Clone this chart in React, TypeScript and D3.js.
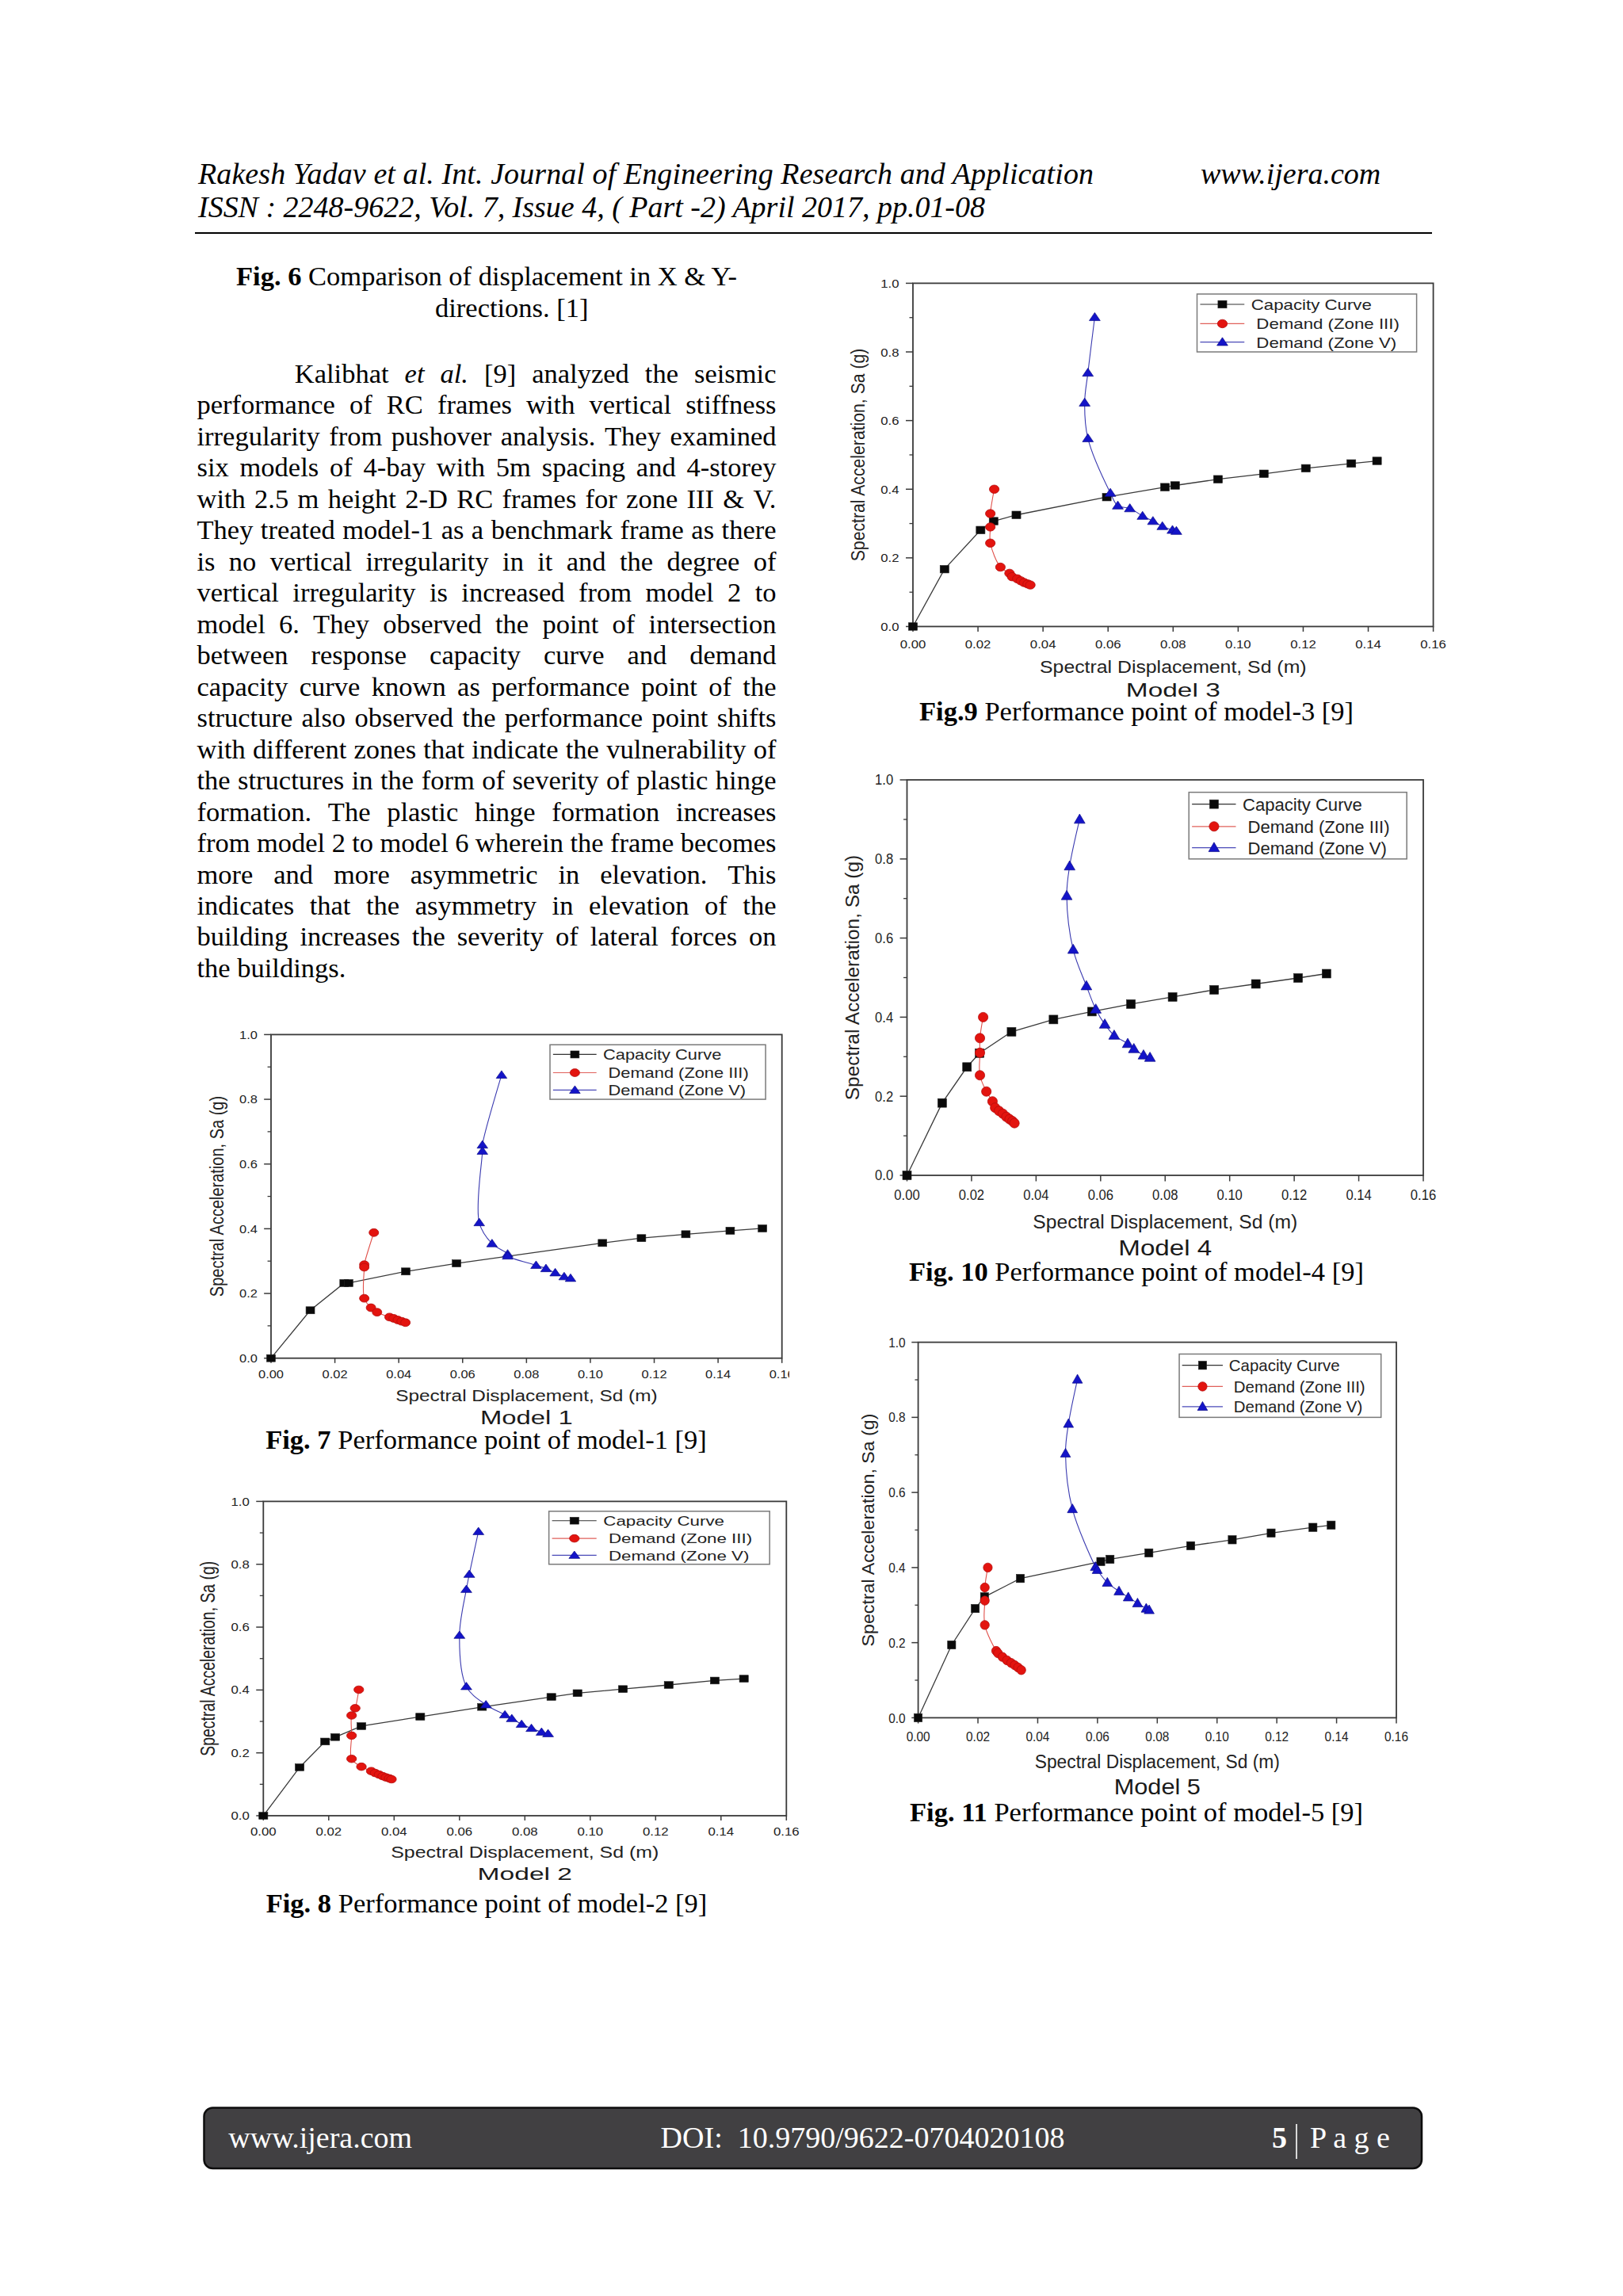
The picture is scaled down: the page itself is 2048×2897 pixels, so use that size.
import React, { useMemo } from 'react';
import * as d3 from 'd3';

type Pt = [number, number];

// ---------- DATA ----------
const xTickValues = [0, 0.02, 0.04, 0.06, 0.08, 0.1, 0.12, 0.14, 0.16];
const yTickValues = [0, 0.2, 0.4, 0.6, 0.8, 1.0];
const yMinorValues = [0.1, 0.3, 0.5, 0.7, 0.9];
const legendLabels = ['Capacity Curve', 'Demand (Zone III)', 'Demand (Zone V)'];

// Model 1
const m1Capacity: Pt[] = [[0, 0], [0.0123, 0.148], [0.0229, 0.232], [0.0243, 0.232], [0.0422, 0.268], [0.0581, 0.293], [0.1038, 0.356], [0.116, 0.371], [0.1299, 0.383], [0.1438, 0.394], [0.1539, 0.401]];
const m1Zone3: Pt[] = [[0.0322, 0.388], [0.0292, 0.289], [0.0292, 0.281], [0.0292, 0.185], [0.0313, 0.156], [0.0332, 0.142], [0.0371, 0.127], [0.0384, 0.123], [0.0397, 0.118], [0.0409, 0.114], [0.0421, 0.11]];
const m1Zone5: Pt[] = [[0.0722, 0.875], [0.0662, 0.659], [0.0662, 0.64], [0.0652, 0.419], [0.0692, 0.354], [0.0741, 0.322], [0.0741, 0.316], [0.083, 0.287], [0.0861, 0.277], [0.089, 0.264], [0.0918, 0.252], [0.0938, 0.247]];

// Model 2
const m2Capacity: Pt[] = [[0, 0], [0.0111, 0.154], [0.0189, 0.236], [0.022, 0.25], [0.03, 0.285], [0.048, 0.315], [0.0669, 0.346], [0.0881, 0.378], [0.0961, 0.39], [0.11, 0.403], [0.124, 0.416], [0.1381, 0.43], [0.147, 0.436]];
const m2Zone3: Pt[] = [[0.0292, 0.401], [0.0281, 0.342], [0.027, 0.319], [0.027, 0.255], [0.027, 0.181], [0.03, 0.156], [0.033, 0.142], [0.0342, 0.136], [0.0354, 0.131], [0.0365, 0.126], [0.0375, 0.122], [0.0385, 0.119], [0.0392, 0.116]];
const m2Zone5: Pt[] = [[0.0658, 0.904], [0.063, 0.768], [0.0621, 0.72], [0.06, 0.574], [0.0621, 0.411], [0.0681, 0.353], [0.0739, 0.321], [0.076, 0.309], [0.079, 0.291], [0.082, 0.278], [0.0851, 0.266], [0.0871, 0.261]];

// Model 3
const m3Capacity: Pt[] = [[0, 0], [0.0097, 0.167], [0.0208, 0.281], [0.0248, 0.307], [0.0318, 0.325], [0.0596, 0.377], [0.0775, 0.406], [0.0806, 0.411], [0.0938, 0.429], [0.1079, 0.445], [0.1208, 0.461], [0.1348, 0.475], [0.1427, 0.4825]];
const m3Zone3: Pt[] = [[0.025, 0.4], [0.0238, 0.329], [0.0238, 0.29], [0.0238, 0.243], [0.0269, 0.173], [0.0297, 0.155], [0.0305, 0.145], [0.0321, 0.139], [0.0332, 0.133], [0.0342, 0.128], [0.0353, 0.124], [0.0361, 0.121]];
const m3Zone5: Pt[] = [[0.0559, 0.901], [0.0538, 0.739], [0.0528, 0.652], [0.0538, 0.548], [0.0607, 0.389], [0.063, 0.352], [0.0667, 0.344], [0.0706, 0.322], [0.0738, 0.307], [0.0767, 0.292], [0.0798, 0.281], [0.081, 0.278]];

// Model 4
const m4Capacity: Pt[] = [[0, 0], [0.0109, 0.183], [0.0186, 0.274], [0.0225, 0.309], [0.0324, 0.363], [0.0454, 0.394], [0.0573, 0.414], [0.0694, 0.433], [0.0823, 0.451], [0.0952, 0.469], [0.1081, 0.484], [0.1212, 0.499], [0.13, 0.51]];
const m4Zone3: Pt[] = [[0.0236, 0.4], [0.0226, 0.347], [0.0226, 0.31], [0.0226, 0.253], [0.0246, 0.212], [0.0265, 0.187], [0.0273, 0.171], [0.0285, 0.163], [0.0297, 0.156], [0.0308, 0.148], [0.0318, 0.142], [0.0327, 0.137], [0.0333, 0.132]];
const m4Zone5: Pt[] = [[0.0535, 0.9], [0.0504, 0.782], [0.0495, 0.707], [0.0515, 0.571], [0.0556, 0.479], [0.0585, 0.42], [0.0613, 0.382], [0.0642, 0.354], [0.0684, 0.333], [0.0703, 0.32], [0.0733, 0.304], [0.0753, 0.298]];

// Model 5
const m5Capacity: Pt[] = [[0, 0], [0.0112, 0.194], [0.0191, 0.291], [0.0222, 0.322], [0.0342, 0.371], [0.0611, 0.416], [0.0642, 0.422], [0.0772, 0.439], [0.0912, 0.458], [0.1051, 0.474], [0.1181, 0.492], [0.1321, 0.507], [0.1382, 0.513]];
const m5Zone3: Pt[] = [[0.0233, 0.4], [0.0223, 0.347], [0.0223, 0.312], [0.0223, 0.247], [0.0261, 0.178], [0.0267, 0.172], [0.0282, 0.162], [0.0297, 0.153], [0.0311, 0.146], [0.0323, 0.14], [0.0334, 0.134], [0.0345, 0.127]];
const m5Zone5: Pt[] = [[0.0533, 0.901], [0.0503, 0.783], [0.0493, 0.704], [0.0516, 0.556], [0.0593, 0.402], [0.0599, 0.394], [0.0633, 0.36], [0.0672, 0.337], [0.0703, 0.321], [0.0734, 0.305], [0.0763, 0.291], [0.0773, 0.287]];

// Text
const paragraphLines = [
  'Kalibhat _et_ _al._ [9] analyzed the seismic',
  'performance of RC frames with vertical stiffness',
  'irregularity from pushover analysis. They examined',
  'six models of 4-bay with 5m spacing and 4-storey',
  'with 2.5 m height 2-D RC frames for zone III & V.',
  'They treated model-1 as a benchmark frame as there',
  'is no vertical irregularity in it and the degree of',
  'vertical irregularity is increased from model 2 to',
  'model 6. They observed the point of intersection',
  'between response capacity curve and demand',
  'capacity curve known as performance point of the',
  'structure also observed the performance point shifts',
  'with different zones that indicate the vulnerability of',
  'the structures in the form of severity of plastic hinge',
  'formation. The plastic hinge formation increases',
  'from model 2 to model 6 wherein the frame becomes',
  'more and more asymmetric in elevation. This',
  'indicates that the asymmetry in elevation of the',
  'building increases the severity of lateral forces on',
  'the buildings.',
];

// ---------- STYLE ----------
const SERIF = '"Liberation Serif", "Times New Roman", serif';
const SANS = '"Liberation Sans", Arial, sans-serif';

let _ctx: CanvasRenderingContext2D | null = null;
function measure(text: string, font: string): number {
  if (!_ctx) {
    const c = document.createElement('canvas');
    _ctx = c.getContext('2d');
  }
  if (!_ctx) return text.length * 15;
  _ctx.font = font;
  return _ctx.measureText(text).width;
}

function Paragraph() {
  const size = 34.5;
  const lh = 39.47;
  const left = 248.5;
  const right = 979.5;
  const y0 = 483;
  const lines = useMemo(() => {
    return paragraphLines.map((line, i) => {
      const words = line.split(' ').map((w) => {
        const italic = w.startsWith('_');
        const txt = w.replace(/_/g, '');
        const font = `${italic ? 'italic ' : ''}${size}px ${SERIF}`;
        return { txt, italic, w: measure(txt, font) };
      });
      const x0 = i === 0 ? 371.8 : left;
      const total = words.reduce((s, w) => s + w.w, 0);
      const last = i === paragraphLines.length - 1;
      const space = measure(' ', `${size}px ${SERIF}`);
      const gap = last || words.length < 2 ? space : (right - x0 - total) / (words.length - 1);
      let cx = x0;
      return words.map((w) => {
        const p = { ...w, x: cx };
        cx += w.w + gap;
        return p;
      });
    });
  }, []);
  return (
    <g fontFamily={SERIF} fontSize={size} fill="#000">
      {lines.map((ws, i) => (
        <text key={i} y={y0 + i * lh}>
          {ws.map((w, j) => (
            <tspan key={j} x={w.x} fontStyle={w.italic ? 'italic' : 'normal'}>
              {w.txt}
            </tspan>
          ))}
        </text>
      ))}
    </g>
  );
}

function Caption({ cx, y, bold, rest }: { cx: number; y: number; bold: string; rest: string }) {
  return (
    <text x={cx} y={y} textAnchor="middle" fontFamily={SERIF} fontSize={34.5} fill="#000" style={{ whiteSpace: 'pre' }}>
      <tspan fontWeight="bold">{bold}</tspan>
      {rest}
    </text>
  );
}

type ChartProps = {
  id: string;
  l: number; t: number; r: number; b: number;
  model: string;
  cap: Pt[]; z3: Pt[]; z5: Pt[];
  clipX?: number;
};

function Chart({ id, l, t, r, b, model, cap, z3, z5, clipX }: ChartProps) {
  const pw = r - l;
  const ph = b - t;
  const sx = pw / 656;
  const sy = ph / 433;
  const hs = (1.17 * sx) / sy;
  const hsTick = (1.08 * sx) / sy;
  const x = d3.scaleLinear().domain([0, 0.16]).range([l, r]);
  const y = d3.scaleLinear().domain([0, 1]).range([b, t]);
  const straight = d3.line<Pt>().x((d) => x(d[0])).y((d) => y(d[1]));
  const smooth = d3.line<Pt>().x((d) => x(d[0])).y((d) => y(d[1])).curve(d3.curveCatmullRom.alpha(0.5));
  const fx = d3.format('.2f');
  const fy = d3.format('.1f');
  const ms = 9.5 * sy;
  const tickFs = 15.5 * sy;
  const titleFs = 21.2 * sy;
  const legFs = 19 * sy;
  const modelFs = 24.5 * sy;
  const ink = '#222';

  const sq = (key: string | number, px: number, py: number) => (
    <rect key={key} x={px - (ms * hs) / 2} y={py - ms / 2} width={ms * hs} height={ms} fill="#0a0a0a" stroke="#222" strokeWidth={0.6} />
  );
  const ci = (key: string | number, px: number, py: number) => (
    <ellipse key={key} cx={px} cy={py} rx={ms * 0.55 * hs} ry={ms * 0.55} fill="#e3140f" stroke="#b50d0d" strokeWidth={0.8} />
  );
  const tr = (key: string | number, px: number, py: number) => (
    <path
      key={key}
      d={`M${px},${py - 0.62 * ms} L${px + 0.62 * ms * hs},${py + 0.45 * ms} L${px - 0.62 * ms * hs},${py + 0.45 * ms}Z`}
      fill="#1414c8"
      stroke="#0b0b8a"
      strokeWidth={0.7}
    />
  );

  const st = (px: number, py: number, size: number, anchor: string, content: string, h = hs) => (
    <text
      transform={`translate(${px},${py}) scale(${h},1)`}
      textAnchor={anchor as any}
      fontFamily={SANS}
      fontSize={size}
      fill={ink}
    >
      {content}
    </text>
  );

  const legX0 = l + 0.546 * pw;
  const legX1 = l + 0.968 * pw;
  const legY0 = t + 0.0314 * ph;
  const legY1 = t + 0.2 * ph;
  const rows = [0.0614, 0.1178, 0.1716].map((f) => t + f * ph);
  const lnA = l + 0.552 * pw;
  const lnB = l + 0.637 * pw;
  const mk = l + 0.5947 * pw;
  const legColors = ['#333', '#e0605a', '#4a4ab8'];

  return (
    <g clipPath={clipX ? `url(#${id}-clip)` : undefined}>
      {clipX && (
        <defs>
          <clipPath id={`${id}-clip`}>
            <rect x={0} y={0} width={clipX} height={3000} />
          </clipPath>
        </defs>
      )}
      {/* frame */}
      <rect x={l} y={t} width={pw} height={ph} fill="none" stroke="#3a3a3a" strokeWidth={1.8} />
      {/* x ticks */}
      {xTickValues.map((v, i) => (
        <g key={`xt${i}`}>
          <line x1={x(v)} x2={x(v)} y1={b} y2={b + 6.5 * sy} stroke="#3a3a3a" strokeWidth={1.5} />
          {st(x(v), b + 27 * sy, tickFs, 'middle', fx(v), hsTick)}
        </g>
      ))}
      {/* y ticks */}
      {yTickValues.map((v, i) => (
        <g key={`yt${i}`}>
          <line x1={l - 9 * sx} x2={l} y1={y(v)} y2={y(v)} stroke="#3a3a3a" strokeWidth={1.5} />
          {st(l - 17.4 * sx, y(v) + 0.36 * tickFs, tickFs, 'end', fy(v), hsTick)}
        </g>
      ))}
      {yMinorValues.map((v, i) => (
        <line key={`ym${i}`} x1={l - 4.5 * sx} x2={l} y1={y(v)} y2={y(v)} stroke="#3a3a3a" strokeWidth={1.3} />
      ))}
      {/* axis titles */}
      {st(l + pw / 2, b + 58 * sy, titleFs, 'middle', 'Spectral Displacement, Sd (m)')}
      <text
        transform={`translate(${l - 0.106 * pw + 0.36 * titleFs * hs},${t + ph / 2}) scale(${hs},1) rotate(-90)`}
        textAnchor="middle"
        fontFamily={SANS}
        fontSize={titleFs}
        fill={ink}
      >
        Spectral Acceleration, Sa (g)
      </text>
      <text
        x={l + pw / 2}
        y={b + 88 * sy}
        textAnchor="middle"
        fontFamily={SANS}
        fontSize={modelFs}
        fill="#1a1a1a"
        textLength={0.181 * pw}
        lengthAdjust="spacingAndGlyphs"
      >
        {model}
      </text>
      {/* series lines */}
      <path d={straight(cap) || ''} fill="none" stroke="#3a3a3a" strokeWidth={1.3} />
      <path d={smooth(z3) || ''} fill="none" stroke="#e0504a" strokeWidth={1.1} />
      <path d={smooth(z5) || ''} fill="none" stroke="#3a3ab0" strokeWidth={1.1} />
      {/* markers */}
      {cap.map((d, i) => sq(`c${i}`, x(d[0]), y(d[1])))}
      {z3.map((d, i) => ci(`r${i}`, x(d[0]), y(d[1])))}
      {z5.map((d, i) => tr(`b${i}`, x(d[0]), y(d[1])))}
      {/* legend */}
      <rect x={legX0} y={legY0} width={legX1 - legX0} height={legY1 - legY0} fill="#fff" stroke="#7a7a7a" strokeWidth={1.5} />
      {legendLabels.map((lab, i) => (
        <g key={`lg${i}`}>
          <line x1={lnA} x2={lnB} y1={rows[i]} y2={rows[i]} stroke={legColors[i]} strokeWidth={1.2} />
          {i === 0 ? sq(`ls${i}`, mk, rows[i]) : i === 1 ? ci(`ls${i}`, mk, rows[i]) : tr(`ls${i}`, mk, rows[i])}
          {st(l + (i === 0 ? 0.65 : 0.66) * pw, rows[i] + 0.36 * legFs, legFs, 'start', lab)}
        </g>
      ))}
    </g>
  );
}

function Footer() {
  return (
    <g>
      <rect x={257.5} y={2659.5} width={1536.5} height={76.5} rx={11} ry={11} fill="#414042" stroke="#0d0d0d" strokeWidth={2.5} />
      <text x={288.3} y={2710} fontFamily={SERIF} fontSize={38} fill="#fff">www.ijera.com</text>
      <text x={833.6} y={2710} fontFamily={SERIF} fontSize={38} fill="#fff" style={{ whiteSpace: 'pre' }}>DOI:  10.9790/9622-0704020108</text>
      <text x={1605} y={2710} fontFamily={SERIF} fontSize={38} fontWeight="bold" fill="#fff">5</text>
      <line x1={1636} x2={1636} y1={2680} y2={2724} stroke="#fff" strokeWidth={1.6} />
      <text x={1653} y={2710} fontFamily={SERIF} fontSize={38} fill="#fff" style={{ whiteSpace: 'pre' }}>P a g e</text>
    </g>
  );
}

export default function App() {
  return (
    <svg
      width={2048}
      height={2897}
      viewBox="0 0 2048 2897"
      style={{ position: 'absolute', left: 0, top: 0, display: 'block', background: '#fff' }}
    >
      <rect x={0} y={0} width={2048} height={2897} fill="#fff" />
      {/* header */}
      <g fontFamily={SERIF} fontStyle="italic" fontSize={38} fill="#000" style={{ whiteSpace: 'pre' }}>
        <text x={250} y={232} textLength={1130} lengthAdjust="spacing">Rakesh Yadav et al.  Int. Journal of Engineering Research and Application</text>
        <text x={1515} y={232}>www.ijera.com</text>
        <text x={250} y={274} textLength={993} lengthAdjust="spacing">ISSN : 2248-9622, Vol. 7, Issue 4, ( Part -2) April 2017, pp.01-08</text>
      </g>
      <line x1={246} x2={1807} y1={294} y2={294} stroke="#000" strokeWidth={2.2} />

      {/* Fig 6 caption & paragraph */}
      <text x={298} y={360} fontFamily={SERIF} fontSize={34.5} fill="#000" style={{ whiteSpace: 'pre' }}>
        <tspan fontWeight="bold">Fig. 6</tspan>
        {' Comparison of displacement in X & Y-'}
      </text>
      <text x={549} y={400} fontFamily={SERIF} fontSize={34.5} fill="#000">directions. [1]</text>
      <Paragraph />

      {/* charts */}
      <Chart id="m3" l={1152} t={357.4} r={1808.6} b={790.5} model="Model 3" cap={m3Capacity} z3={m3Zone3} z5={m3Zone5} />
      <Caption cx={1434} y={909} bold="Fig.9" rest=" Performance point of model-3 [9]" />

      <Chart id="m4" l={1144.5} t={984} r={1796} b={1483} model="Model 4" cap={m4Capacity} z3={m4Zone3} z5={m4Zone5} />
      <Caption cx={1434} y={1616} bold="Fig. 10" rest=" Performance point of model-4 [9]" />

      <Chart id="m1" l={342} t={1305.4} r={986.7} b={1713.7} model="Model 1" cap={m1Capacity} z3={m1Zone3} z5={m1Zone5} clipX={996} />
      <Caption cx={613.5} y={1828} bold="Fig. 7" rest=" Performance point of model-1 [9]" />

      <Chart id="m5" l={1158.6} t={1693.6} r={1762} b={2167.4} model="Model 5" cap={m5Capacity} z3={m5Zone3} z5={m5Zone5} />
      <Caption cx={1434} y={2298} bold="Fig. 11" rest=" Performance point of model-5 [9]" />

      <Chart id="m2" l={332.3} t={1894.4} r={992.3} b={2291} model="Model 2" cap={m2Capacity} z3={m2Zone3} z5={m2Zone5} />
      <Caption cx={614} y={2413} bold="Fig. 8" rest=" Performance point of model-2 [9]" />

      <Footer />
    </svg>
  );
}
